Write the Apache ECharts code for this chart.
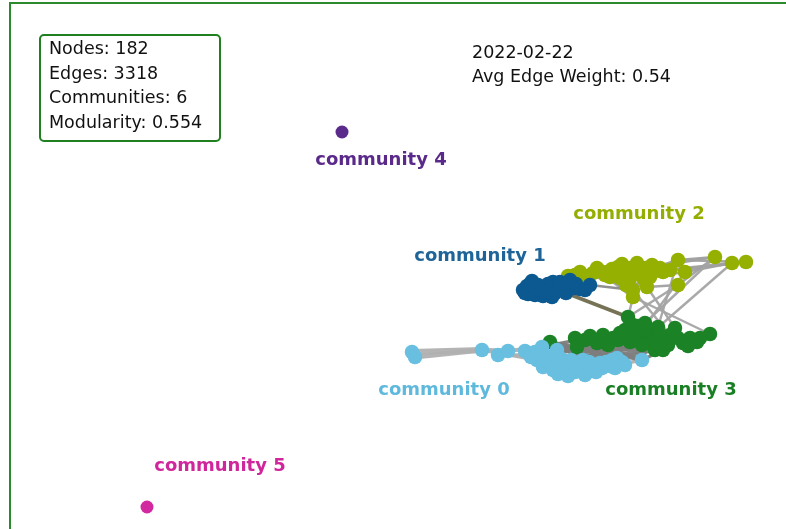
<!DOCTYPE html>
<html>
<head>
<meta charset="utf-8">
<script src="https://cdn.jsdelivr.net/npm/echarts@6/dist/echarts.min.js"></script>
<style>
  html, body { margin: 0; padding: 0; background: #fff; }
  #chart { width: 786px; height: 529px; }
</style>
</head>
<body>
<div id="chart"></div>
<script>
// Layout coordinates of each node, one list per detected community
const nodes0 = [[412,352],[415,357],[482,350],[498,355],[508,351],[525,351],[542,347],[537,360],[543,367],[550,360],
  [557,350],[560,358],[563,365],[575,372],[580,362],[583,360],[588,372],[595,365],[602,368],[617,358],
  [618,362],[622,362],[642,360],[535,352],[545,355],[553,370],[565,370],[570,366],[590,368],[606,362],[610,366],
  [531,357],[538,352],[547,362],[552,367],[558,374],[568,376],[578,368],[585,375],[596,372],[600,363],
  [612,360],[625,365],[615,368],[556,356],[571,360],[589,362]];
const nodes1 = [[523,290],[527,286],[532,281],[533,291],[538,285],[543,296],[546,288],[552,297],[553,282],[558,290],
  [562,285],[566,293],[570,280],[574,288],[580,289],[590,285],[548,284],[528,294],
  [525,293],[535,295],[540,290],[555,293],[560,282],[567,287],[576,284],[585,290],[530,284],[545,292]];
const nodes2 = [[568,276],[580,272],[593,273],[600,271],[607,272],[612,269],[618,267],[625,270],[630,268],[637,263],
  [640,272],[646,268],[630,278],[620,278],[647,287],[633,290],[626,285],[633,297],[655,271],[663,272],
  [678,260],[685,272],[678,285],[715,257],[732,263],[746,262],[650,277],[610,277],
  [597,268],[605,275],[615,273],[622,264],[628,273],[635,268],[643,278],[652,265],[660,268],[670,270],
  [585,276],[575,275]];
const nodes3 = [[628,317],[645,323],[625,330],[640,333],[658,327],[675,328],[710,334],[575,338],[603,335],[613,338],
  [597,343],[577,347],[550,342],[630,342],[647,337],[663,340],[683,343],[697,342],[655,350],[663,350],
  [620,333],[635,338],[670,335],[690,338],[650,343],
  [585,340],[590,336],[608,345],[618,340],[625,338],[638,326],[652,332],[660,335],[668,345],[678,338],
  [688,346],[700,338],[642,345],[633,325],[645,330]];
const nodes4 = [[342,132]];
const nodes5 = [[147,507]];

// Edges: [source, target, weight]; ids are "community:index"
const edges = [
  ['0:0','0:2',1.0],['0:1','0:2',0.8],['0:2','0:4',0.7],['0:4','0:6',0.6],['0:2','0:7',0.5],['0:3','0:24',0.5],
  ['0:6','3:8',0.5],['0:10','3:9',0.5],['0:7','3:20',0.5],['0:9','3:13',0.5],['0:12','3:21',0.5],
  ['0:15','3:24',0.5],['0:19','3:18',0.5],['0:22','3:19',0.4],['0:8','3:10',0.5],['0:24','3:14',0.5],
  ['0:25','3:9',0.5],['0:16','3:13',0.5],['0:22','0:18',0.5],['0:22','3:24',0.3],
  ['0:22','3:12',0.5],['0:22','3:7',0.5],['0:19','3:12',0.5],['0:6','3:18',0.5],['0:7','3:19',0.5],
  ['0:13','3:14',0.5],['0:18','3:12',0.5],['0:31','3:13',0.5],['0:36','3:21',0.5],['0:41','3:11',0.5],
  ['2:2','2:14',0.5],['2:3','2:17',0.5],['2:4','2:15',0.5],['2:1','2:16',0.5],['2:27','2:14',0.4],
  ['2:23','2:20',0.3],['2:23','2:11',0.3],['2:25','2:19',0.3],['2:24','2:21',0.3],['2:20','2:10',0.3],
  ['2:21','2:26',0.3],['2:22','2:14',0.3],['2:24','2:18',0.3],['2:25','2:20',0.3],['2:23','2:22',0.25],
  ['2:23','3:1',0.25],['2:20','3:4',0.25],['2:21','3:3',0.25],['2:22','3:0',0.25],['2:14','3:5',0.25],
  ['2:17','3:6',0.25],['2:15','3:22',0.25],['2:24','3:14',0.25],['2:17','3:2',0.25],
  ['1:11','3:0',0.5],['1:15','2:15',0.3]
];

const communityNames = ['community 0','community 1','community 2','community 3','community 4','community 5'];
const labelAnchors = [[444,390],[480,256],[639,214],[671,390],[381,160],[220,466]];
const statLines = ['Nodes: 182','Edges: 3318','Communities: 6','Modularity: 0.554'];
const headerLines = ['2022-02-22','Avg Edge Weight: 0.54'];

const palette = ['#68bfe0','#0b5990','#95b000','#1b8326','#5b2b8c','#d229a0'];
const labelPalette = ['#5fb9dd','#1f6498','#94ad00','#1a7f24','#5a2a8a','#d0269c'];
const pairColor = {'0-0':'#b0b0b0','0-3':'#7d7d7d','2-2':'#a0a0a0','2-3':'#a4a4a4','1-3':'#6e6a4c','1-2':'#8a8a8a'};

const groups = [nodes0, nodes1, nodes2, nodes3, nodes4, nodes5];
const drawOrder = [3, 0, 2, 1, 4, 5];
const graphData = [];
drawOrder.forEach(c => {
  groups[c].forEach((p, i) => {
    graphData.push({
      name: c + ':' + i,
      value: p,
      symbolSize: c >= 4 ? 13 : 14.5,
      itemStyle: { color: palette[c] }
    });
  });
});

const graphLinks = edges.map(([s, t, w]) => {
  const a = s.split(':')[0], b = t.split(':')[0];
  const key = a < b ? a + '-' + b : b + '-' + a;
  return {
    source: s, target: t,
    lineStyle: { width: 1.2 + w * 5, color: pairColor[key] || '#999', opacity: 0.95, curveness: 0 }
  };
});

const chart = echarts.init(document.getElementById('chart'), null, { renderer: 'canvas' });
chart.setOption({
  animation: false,
  backgroundColor: '#ffffff',
  grid: { left: 0, right: 0, top: 0, bottom: 0 },
  xAxis: { type: 'value', min: 0, max: 786, show: false },
  yAxis: { type: 'value', min: 0, max: 529, inverse: true, show: false },
  graphic: [
    { type: 'rect', z: -10, shape: { x: 10, y: 3, width: 820, height: 560 },
      style: { fill: 'none', stroke: '#2b8a2b', lineWidth: 2 } },
    { type: 'rect', z: 10, shape: { x: 40, y: 35, width: 180, height: 106, r: 4 },
      style: { fill: '#ffffff', stroke: '#1f801f', lineWidth: 2 } },
    { type: 'text', z: 11, x: 49, y: 37,
      style: { text: statLines.join('\n'), font: '17.5px "DejaVu Sans"', lineHeight: 24.7, fill: '#111111',
               verticalAlign: 'top' } },
    { type: 'text', z: 11, x: 472, y: 41,
      style: { text: headerLines.join('\n'), font: '17.5px "DejaVu Sans"', lineHeight: 24, fill: '#111111',
               verticalAlign: 'top' } }
  ],
  series: [
    {
      type: 'graph',
      coordinateSystem: 'cartesian2d',
      layout: 'none',
      data: graphData,
      links: graphLinks,
      edgeSymbol: ['none', 'none'],
      label: { show: false },
      emphasis: { disabled: true },
      silent: true
    },
    {
      type: 'scatter',
      symbolSize: 1,
      itemStyle: { color: 'transparent' },
      silent: true,
      data: communityNames.map((n, i) => ({
        name: n, value: labelAnchors[i],
        label: { color: labelPalette[i] }
      })),
      label: {
        show: true, position: 'inside', formatter: '{b}', opacity: 1,
        textBorderWidth: 0, textBorderColor: 'transparent',
        fontFamily: 'DejaVu Sans', fontWeight: 'bold', fontSize: 18
      }
    }
  ]
});
</script>
</body>
</html>
